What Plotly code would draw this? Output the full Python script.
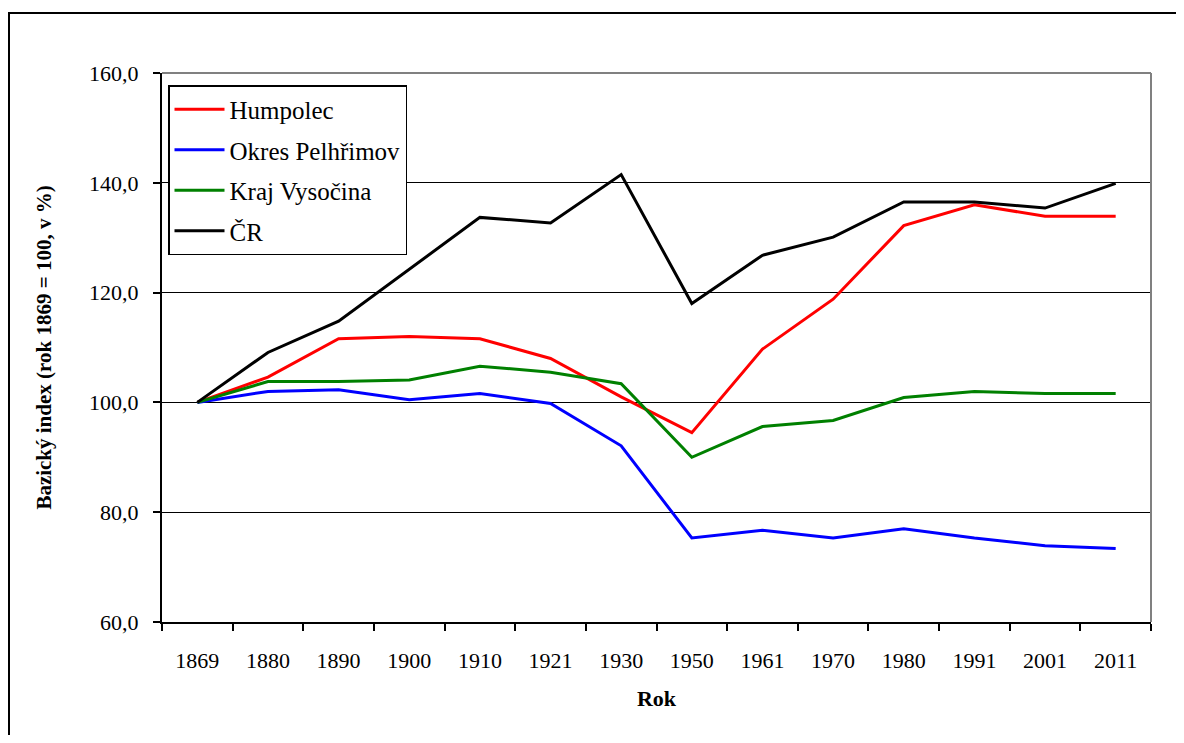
import plotly.graph_objects as go

years = ["1869", "1880", "1890", "1900", "1910", "1921", "1930", "1950",
         "1961", "1970", "1980", "1991", "2001", "2011"]
humpolec = [100.0, 104.6, 111.6, 112.0, 111.6, 108.0, 101.0, 94.5,
            109.7, 118.8, 132.2, 136.0, 133.9, 133.9]
pelhrimov = [100.0, 102.0, 102.3, 100.5, 101.6, 99.8, 92.1, 75.3,
             76.7, 75.3, 77.0, 75.3, 73.9, 73.4]
vysocina = [100.0, 103.8, 103.8, 104.1, 106.6, 105.5, 103.4, 90.0,
            95.6, 96.7, 100.9, 102.0, 101.6, 101.6]
cr = [100.0, 109.1, 114.8, 124.2, 133.7, 132.7, 141.5, 118.0,
      126.8, 130.1, 136.5, 136.5, 135.4, 139.9]

series = [
    ("Humpolec", humpolec, "#FF0000"),
    ("Okres Pelhřimov", pelhrimov, "#0000FF"),
    ("Kraj Vysočina", vysocina, "#008000"),
    ("ČR", cr, "#000000"),
]

FONT = "Liberation Serif, Times New Roman, serif"

fig = go.Figure()
for i, (name, vals, col) in enumerate(series):
    fig.add_trace(go.Scatter(
        x=years, y=vals, name=name, mode="lines",
        line=dict(color=col, width=3),
        legendgroup=f"g{i}",
    ))

# page has an 8px body margin; work in screen coordinates and shift
D = 8
W, H = 1184 - 2 * D, 743 - 2 * D
L, R, T, B = 162 - D, 1151 - D, 73 - D, 622 - D

def px_x(p):
    return (p - D - L) / (R - L)

def px_y(p):
    return (B - (p - D)) / (B - T)

fig.update_layout(
    width=W, height=H,
    margin=dict(l=L, r=W - R, t=T, b=H - B, autoexpand=False),
    paper_bgcolor="white", plot_bgcolor="white",
    font=dict(family=FONT, size=22, color="black"),
    separators=", ",
    showlegend=True,
    legend=dict(
        x=px_x(168), y=px_y(85), xanchor="left", yanchor="top",
        bgcolor="white", bordercolor="black", borderwidth=1.5,
        font=dict(family=FONT, size=25, color="black"),
        tracegroupgap=5, traceorder="grouped",
        itemwidth=50,
    ),
    xaxis=dict(
        type="category", categoryorder="array", categoryarray=years,
        showline=True, linecolor="black", linewidth=2,
        ticks="outside", ticklen=7, tickwidth=1.5, tickcolor="black",
        tickson="boundaries", showgrid=False,
        ticklabelstandoff=18,
        tickfont=dict(family=FONT, size=22),
        title=dict(text="<b>Rok</b>", font=dict(family=FONT, size=22), standoff=18),
        range=[-0.5, len(years) - 0.5],
    ),
    yaxis=dict(
        range=[60, 160], dtick=20, tick0=60, tickformat=".1f",
        showline=True, linecolor="black", linewidth=2,
        ticks="outside", ticklen=7, tickwidth=1.5, tickcolor="black",
        showgrid=True, gridcolor="black", gridwidth=1.3,
        zeroline=False,
        ticklabelstandoff=10,
        tickfont=dict(family=FONT, size=22),
        title=dict(text="<b>Bazický index (rok 1869 = 100, v %)</b>",
                   font=dict(family=FONT, size=21), standoff=32),
    ),
    shapes=[
        dict(type="line", xref="paper", yref="paper", x0=0, x1=1, y0=1, y1=1,
             line=dict(color="#808080", width=2), layer="above"),
        dict(type="line", xref="paper", yref="paper", x0=1, x1=1, y0=0, y1=1,
             line=dict(color="#808080", width=2), layer="above"),
        dict(type="rect", xref="paper", yref="paper",
             x0=px_x(9), x1=px_x(1200), y0=px_y(13), y1=px_y(780),
             line=dict(color="black", width=2), fillcolor="rgba(0,0,0,0)",
             layer="above"),
    ],
)

fig.write_html("out.html")
